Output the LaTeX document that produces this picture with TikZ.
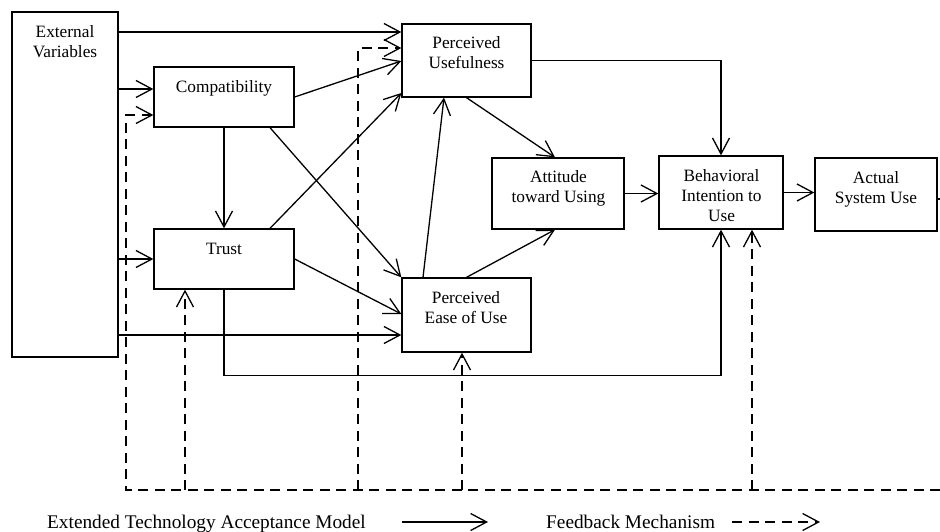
\documentclass[tikz,border=0pt]{standalone}
\usepackage{fontspec}
\setmainfont{Liberation Serif}
\usetikzlibrary{arrows.meta}
\begin{document}
\begin{tikzpicture}[x=1pt,y=-1pt,
  box/.style={draw, line width=1.3pt, inner sep=0pt},
  txt/.style={font=\fontsize{17.3}{20}\selectfont, align=center, inner sep=0pt},
  leg/.style={font=\fontsize{19.3}{22}\selectfont, inner sep=0pt},
  ln/.style={line width=1.3pt},
  arr/.style={ln, -{Straight Barb[length=16pt,width=17pt]}},
  fbl/.style={line width=1.3pt, dash pattern=on 10pt off 6.5pt},
  fbarr/.style={fbl, -{Straight Barb[length=16pt,width=17pt]}}]
\useasboundingbox (0,0) rectangle (940,531);

% boxes
\node[box, minimum width=106pt, minimum height=345pt] (ev) at (65,184.5) {};
\node[box, minimum width=140pt, minimum height=60pt] (cp) at (224,97) {};
\node[box, minimum width=140pt, minimum height=60pt] (tr) at (224,259) {};
\node[box, minimum width=129pt, minimum height=73pt] (pu) at (466.5,60.5) {};
\node[box, minimum width=129pt, minimum height=74pt] (pe) at (466.5,315) {};
\node[box, minimum width=132pt, minimum height=71pt] (at) at (558,193.5) {};
\node[box, minimum width=124pt, minimum height=73pt] (bi) at (721,192.5) {};
\node[box, minimum width=122pt, minimum height=73pt] (as) at (876,194.5) {};

% texts
\node[txt] (evt) at (65,42) {External\\Variables};
\node[txt] (cpt) at (224,88) {Compatibility};
\node[txt] (trt) at (224,249) {Trust};
\node[txt] (put) at (466.5,53) {Perceived\\Usefulness};
\node[txt] (pet) at (466,307.5) {Perceived\\Ease of Use};
\node[txt] (att) at (558.5,188) {Attitude\\toward Using};
\node[txt] (bit) at (721.5,196) {Behavioral\\Intention to\\Use};
\node[txt] (ast) at (876,189) {Actual\\System Use};

% solid connectors
\draw[arr] (ev.east |- 0,32) -- (pu.west |- 0,32);
\draw[arr] (ev.east |- 0,89) -- (cp.west |- 0,89);
\draw[arr] (ev.east |- 0,259) -- (tr.west);
\draw[arr] (ev.east |- 0,335) -- (pe.west |- 0,335);
\draw[arr] (cp.east) -- (pu.west |- 0,61);
\draw[arr] (tr.north -| 270,0) -- (pu.west |- 0,93);
\draw[arr] (cp.south) -- (tr.north);
\draw[arr] (cp.south -| 270,0) -- (pe.north west);
\draw[arr] (tr.east) -- (pe.west |- 0,314);
\draw[arr] (tr.south) -- ++(0,86) -| (bi.south);
\draw[arr] (pe.north -| 423,0) -- (pu.south -| 444,0);
\draw[arr] (pu.south) -- (at.north -| 555,0);
\draw[arr] (pe.north) -- (at.south -| 555,0);
\draw[arr] (pu.east) -| (bi.north);
\draw[arr] (at.east) -- (at.east -| bi.west);
\draw[arr] (bi.east) -- (bi.east -| as.west);
\coordinate (re) at (940,199);
\draw[ln] (as.east |- re) -- (re);

% feedback
\coordinate (fb) at (940,490);
\coordinate (f1) at (126,490);
\coordinate (f2) at (185,490);
\coordinate (f3) at (358,490);
\coordinate (f4) at (462,490);
\coordinate (f5) at (752,490);
\draw[fbarr] (fb) -- (f1) -- (126,115) -- (cp.west |- 0,115);
\draw[fbarr] (f2) -- (tr.south -| f2);
\draw[fbarr] (f3) -- (358,48) -- (pu.west |- 0,48);
\draw[fbarr] (f4) -- (pe.south -| f4);
\draw[fbarr] (f5) -- (bi.south -| f5);

% legend
\node[leg, anchor=base west] (l1) at (47,528) {Extended Technology Acceptance Model};
\coordinate (a1) at (402,522);
\coordinate (a2) at (488,522);
\draw[arr] (a1) -- (a2);
\node[leg, anchor=base west] (l2) at (546,528) {Feedback Mechanism};
\coordinate (b1) at (732,522);
\coordinate (b2) at (820,522);
\draw[fbarr] (b1) -- (b2);
\end{tikzpicture}
\end{document}
